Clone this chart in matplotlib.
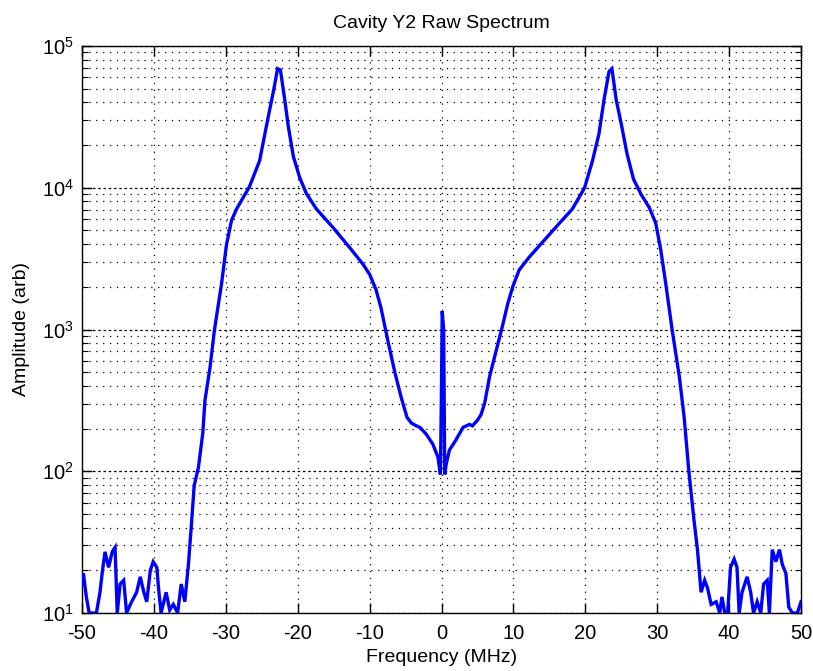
import matplotlib
matplotlib.use("Agg")
import matplotlib.pyplot as plt
from matplotlib.ticker import FixedLocator, NullFormatter

plt.rcParams['font.family'] = ['Liberation Sans', 'DejaVu Sans']
plt.rcParams['mathtext.fontset'] = 'custom'
plt.rcParams['mathtext.rm'] = 'Liberation Sans'
plt.rcParams['mathtext.it'] = 'Liberation Sans'
plt.rcParams['mathtext.bf'] = 'Liberation Sans'

# Spectrum samples: frequency (MHz) and raw amplitude (arb)
freq_mhz = [
    -50.0, -49.8, -49.4, -49.0, -48.0, -47.5, -47.2, -46.8, -46.3, -45.8,
    -45.4, -45.1, -44.7, -44.2, -43.8, -43.1, -42.4, -41.9, -41.4, -41.0,
    -40.5, -40.1, -39.6, -39.3, -39.0, -38.3, -37.8, -37.3, -36.7, -36.2,
    -35.7, -35.2, -34.8, -34.4, -33.8, -33.2, -32.9, -32.2, -31.6, -30.6,
    -29.9, -29.2, -28.5, -27.6, -26.7, -25.3, -24.1, -23.3, -22.8, -22.4,
    -21.8, -21.3, -20.6, -19.7, -18.8, -17.4, -15.1, -12.8, -10.9, -10.0,
    -9.1, -8.4, -7.5, -6.5, -5.6, -4.8, -4.2, -3.5, -3.0, -2.1,
    -1.2, -0.5, -0.15, 0.0, 0.1, 0.3, 0.45, 0.65, 1.1, 2.0,
    3.0, 3.9, 4.3, 5.0, 5.5, 6.0, 6.7, 7.6, 8.5, 9.2,
    9.9, 10.8, 12.2, 14.3, 16.4, 18.2, 19.9, 21.0, 21.9, 22.6,
    23.3, 23.7, 24.3, 25.0, 25.8, 26.7, 27.8, 28.9, 29.8, 30.5,
    31.2, 32.1, 33.1, 33.75, 34.4, 35.1, 35.6, 36.1, 36.6, 37.0,
    37.5, 38.2, 38.7, 39.0, 39.4, 39.8, 40.2, 40.7, 41.1, 41.4,
    41.8, 42.5, 43.0, 43.4, 43.9, 44.4, 44.8, 45.3, 45.6, 46.0,
    46.5, 47.0, 47.4, 47.9, 48.3, 48.8, 49.5, 50.0,
]
amplitude = [
    16, 19, 13, 10, 10, 14, 19, 27, 21, 27,
    29, 10, 16, 17, 10, 12, 14, 18, 14, 12,
    20, 23, 21, 14, 10, 14, 10.5, 11.5, 10, 16,
    12, 22, 41, 79, 107, 186, 316, 537, 977, 2090,
    3980, 5890, 7080, 8510, 10200, 15500, 31600, 50100, 69200, 67600,
    41700, 26900, 16600, 11700, 9120, 7080, 5250, 3800, 2880, 2450,
    1905, 1410, 851, 501, 331, 240, 219, 209, 204, 182,
    155, 126, 95, 400, 1350, 1000, 95, 112, 141, 166,
    204, 214, 209, 229, 251, 302, 468, 708, 1070, 1510,
    2000, 2630, 3240, 4270, 5620, 7080, 10000, 15500, 24000, 41700,
    66000, 69200, 41700, 28200, 17400, 11500, 8910, 7240, 5620, 3630,
    2090, 977, 457, 240, 100, 46, 28, 14, 17, 15,
    11.5, 12, 10, 13, 10, 10, 21, 24, 21, 10,
    14, 18, 14, 10, 12, 10, 16, 17, 10, 28,
    23, 28, 22, 19, 11, 10, 10, 12,
]

x_ticks = [-50, -40, -30, -20, -10, 0, 10, 20, 30, 40, 50]
x_tick_labels = ['-50', '-40', '-30', '-20', '-10', '0', '10', '20', '30', '40', '50']
y_decades = [10, 100, 1000, 10000, 100000]
y_tick_labels = [r'$\mathregular{10^{%d}}$' % e for e in (1, 2, 3, 4, 5)]

fig = plt.figure(figsize=(8.13, 6.71), dpi=100)
ax = fig.add_axes([82 / 813, 1 - 613 / 671, 719 / 813, 567 / 671])

ax.set_yscale('log')
ax.set_xlim(-50, 50)
ax.set_ylim(10, 1e5)

# Dotted grid, major and minor
y_minor = [m * d for d in (10, 100, 1000, 10000) for m in range(2, 10)]
ax.xaxis.set_major_locator(FixedLocator(x_ticks))
ax.set_xticklabels(x_tick_labels)
ax.yaxis.set_major_locator(FixedLocator(y_decades))
ax.set_yticklabels(y_tick_labels)
ax.yaxis.set_minor_locator(FixedLocator(y_minor))
ax.yaxis.set_minor_formatter(NullFormatter())

grid_style = dict(color='black', linewidth=0.9, linestyle=(0, (1, 4.5)))
ax.grid(True, which='major', axis='x', **grid_style)
ax.grid(True, which='major', axis='y', color='black', linewidth=0.9,
        linestyle=(0, (2, 2.2)))
ax.grid(True, which='minor', axis='y', **grid_style)
ax.set_axisbelow(True)

ax.plot(freq_mhz, amplitude, color='#0000ff', linewidth=2.4,
        solid_joinstyle='miter', zorder=3)

ax.tick_params(axis='both', which='both', direction='in', top=True,
               right=True, colors='black', labelsize=14.5)
ax.tick_params(axis='both', which='major', length=7, width=1)
ax.tick_params(axis='y', which='minor', length=4, width=0.8)
ax.tick_params(axis='x', which='major', pad=8)
ax.tick_params(axis='y', which='major', pad=6)

for s in ax.spines.values():
    s.set_linewidth(1.0)
    s.set_color('black')

ax.set_title('Cavity Y2 Raw Spectrum', fontsize=14, pad=13)
ax.set_xlabel('Frequency (MHz)', fontsize=14, labelpad=4)
ax.set_ylabel('Amplitude (arb)', fontsize=14, labelpad=8)

fig.savefig('out.png', dpi=100)
